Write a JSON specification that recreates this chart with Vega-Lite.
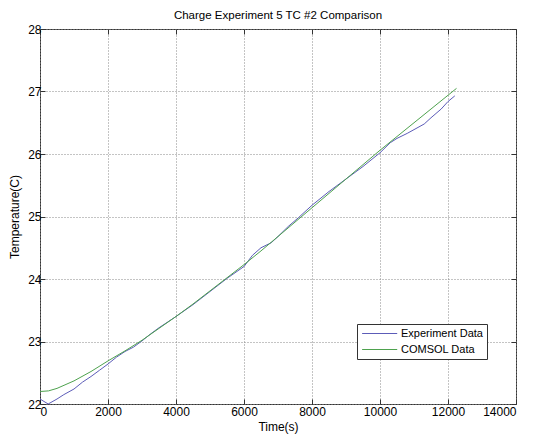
{
  "$schema": "https://vega.github.io/schema/vega-lite/v6.json",
  "width": 476,
  "height": 375,
  "autosize": {"type": "none"},
  "padding": {"left": 40, "top": 29, "right": 18, "bottom": 33},
  "background": "white",
  "title": {"text": "Charge Experiment 5 TC #2 Comparison", "font": "Liberation Sans", "fontSize": 11.5, "fontWeight": "normal", "color": "black", "offset": 2},
  "config": {
    "view": {"stroke": "#333", "strokeWidth": 1},
    "axis": {"labelFont": "Liberation Sans", "titleFont": "Liberation Sans", "labelFontSize": 12, "titleFontSize": 12, "titleFontWeight": "normal", "labelColor": "black", "titleColor": "black", "domain": false, "tickColor": "#333", "tickSize": -5, "gridColor": "#888", "gridDash": [1, 2], "gridOpacity": 1, "gridWidth": 1}
  },
  "data": {"values": [
    {"t": 0, "T": 22.08, "s": "Experiment Data"},
    {"t": 240, "T": 22.00, "s": "Experiment Data"},
    {"t": 500, "T": 22.08, "s": "Experiment Data"},
    {"t": 700, "T": 22.15, "s": "Experiment Data"},
    {"t": 1000, "T": 22.24, "s": "Experiment Data"},
    {"t": 1250, "T": 22.35, "s": "Experiment Data"},
    {"t": 1500, "T": 22.44, "s": "Experiment Data"},
    {"t": 1750, "T": 22.54, "s": "Experiment Data"},
    {"t": 2000, "T": 22.64, "s": "Experiment Data"},
    {"t": 2250, "T": 22.75, "s": "Experiment Data"},
    {"t": 2500, "T": 22.84, "s": "Experiment Data"},
    {"t": 2750, "T": 22.91, "s": "Experiment Data"},
    {"t": 3000, "T": 23.01, "s": "Experiment Data"},
    {"t": 3250, "T": 23.12, "s": "Experiment Data"},
    {"t": 3500, "T": 23.22, "s": "Experiment Data"},
    {"t": 3750, "T": 23.31, "s": "Experiment Data"},
    {"t": 4000, "T": 23.40, "s": "Experiment Data"},
    {"t": 4500, "T": 23.59, "s": "Experiment Data"},
    {"t": 5000, "T": 23.80, "s": "Experiment Data"},
    {"t": 5500, "T": 24.01, "s": "Experiment Data"},
    {"t": 6000, "T": 24.20, "s": "Experiment Data"},
    {"t": 6250, "T": 24.38, "s": "Experiment Data"},
    {"t": 6500, "T": 24.50, "s": "Experiment Data"},
    {"t": 6800, "T": 24.58, "s": "Experiment Data"},
    {"t": 7000, "T": 24.68, "s": "Experiment Data"},
    {"t": 7300, "T": 24.84, "s": "Experiment Data"},
    {"t": 7600, "T": 24.98, "s": "Experiment Data"},
    {"t": 8000, "T": 25.18, "s": "Experiment Data"},
    {"t": 8500, "T": 25.40, "s": "Experiment Data"},
    {"t": 9000, "T": 25.60, "s": "Experiment Data"},
    {"t": 9500, "T": 25.80, "s": "Experiment Data"},
    {"t": 10000, "T": 26.02, "s": "Experiment Data"},
    {"t": 10300, "T": 26.18, "s": "Experiment Data"},
    {"t": 10500, "T": 26.25, "s": "Experiment Data"},
    {"t": 10800, "T": 26.33, "s": "Experiment Data"},
    {"t": 11000, "T": 26.39, "s": "Experiment Data"},
    {"t": 11300, "T": 26.48, "s": "Experiment Data"},
    {"t": 11500, "T": 26.58, "s": "Experiment Data"},
    {"t": 11800, "T": 26.72, "s": "Experiment Data"},
    {"t": 12000, "T": 26.84, "s": "Experiment Data"},
    {"t": 12200, "T": 26.93, "s": "Experiment Data"},
    {"t": 0, "T": 22.20, "s": "COMSOL Data"},
    {"t": 250, "T": 22.21, "s": "COMSOL Data"},
    {"t": 500, "T": 22.25, "s": "COMSOL Data"},
    {"t": 1000, "T": 22.37, "s": "COMSOL Data"},
    {"t": 1500, "T": 22.52, "s": "COMSOL Data"},
    {"t": 2000, "T": 22.69, "s": "COMSOL Data"},
    {"t": 2500, "T": 22.85, "s": "COMSOL Data"},
    {"t": 3000, "T": 23.02, "s": "COMSOL Data"},
    {"t": 3500, "T": 23.21, "s": "COMSOL Data"},
    {"t": 4000, "T": 23.40, "s": "COMSOL Data"},
    {"t": 4500, "T": 23.60, "s": "COMSOL Data"},
    {"t": 5000, "T": 23.81, "s": "COMSOL Data"},
    {"t": 5500, "T": 24.02, "s": "COMSOL Data"},
    {"t": 6000, "T": 24.23, "s": "COMSOL Data"},
    {"t": 6500, "T": 24.45, "s": "COMSOL Data"},
    {"t": 7000, "T": 24.68, "s": "COMSOL Data"},
    {"t": 7500, "T": 24.91, "s": "COMSOL Data"},
    {"t": 8000, "T": 25.14, "s": "COMSOL Data"},
    {"t": 8500, "T": 25.37, "s": "COMSOL Data"},
    {"t": 9000, "T": 25.60, "s": "COMSOL Data"},
    {"t": 9500, "T": 25.83, "s": "COMSOL Data"},
    {"t": 10000, "T": 26.06, "s": "COMSOL Data"},
    {"t": 10500, "T": 26.28, "s": "COMSOL Data"},
    {"t": 11000, "T": 26.50, "s": "COMSOL Data"},
    {"t": 11500, "T": 26.72, "s": "COMSOL Data"},
    {"t": 12000, "T": 26.94, "s": "COMSOL Data"},
    {"t": 12250, "T": 27.05, "s": "COMSOL Data"}
  ]},
  "layer": [
    {
      "mark": {"type": "line", "strokeWidth": 1},
      "encoding": {
        "x": {"field": "t", "type": "quantitative", "scale": {"domain": [0, 14000], "nice": false}, "axis": {"orient": "bottom", "title": "Time(s)", "titlePadding": 4, "labelPadding": 7, "format": "d", "grid": true, "values": [0, 2000, 4000, 6000, 8000, 10000, 12000, 14000]}},
        "y": {"field": "T", "type": "quantitative", "scale": {"domain": [22, 28], "nice": false, "zero": false}, "axis": {"orient": "left", "title": "Temperature(C)", "titlePadding": 6, "labelPadding": 4, "grid": true, "values": [22, 23, 24, 25, 26, 27, 28]}},
        "color": {"field": "s", "type": "nominal", "sort": ["Experiment Data", "COMSOL Data"],
          "scale": {"domain": ["Experiment Data", "COMSOL Data"], "range": ["#5c5cb8", "#4ea24e"]},
          "legend": {"title": null, "orient": "none", "legendX": 317, "legendY": 295, "symbolType": "M-1,0H7", "symbolSize": 77, "symbolStrokeWidth": 1, "labelFont": "Liberation Sans", "labelFontSize": 11, "labelColor": "black", "strokeColor": "#333", "fillColor": "white", "padding": 4, "rowPadding": 4, "labelOffset": 29}
        }
      }
    },
    {
      "mark": {"type": "point", "opacity": 0},
      "encoding": {
        "x": {"field": "t", "type": "quantitative", "scale": {"domain": [0, 14000], "nice": false}, "axis": {"orient": "top", "labels": false, "title": null, "grid": false, "values": [0, 2000, 4000, 6000, 8000, 10000, 12000, 14000]}},
        "y": {"field": "T", "type": "quantitative", "scale": {"domain": [22, 28], "nice": false, "zero": false}, "axis": {"orient": "right", "labels": false, "title": null, "grid": false, "values": [22, 23, 24, 25, 26, 27, 28]}}
      }
    }
  ],
  "resolve": {"axis": {"x": "independent", "y": "independent"}}
}
